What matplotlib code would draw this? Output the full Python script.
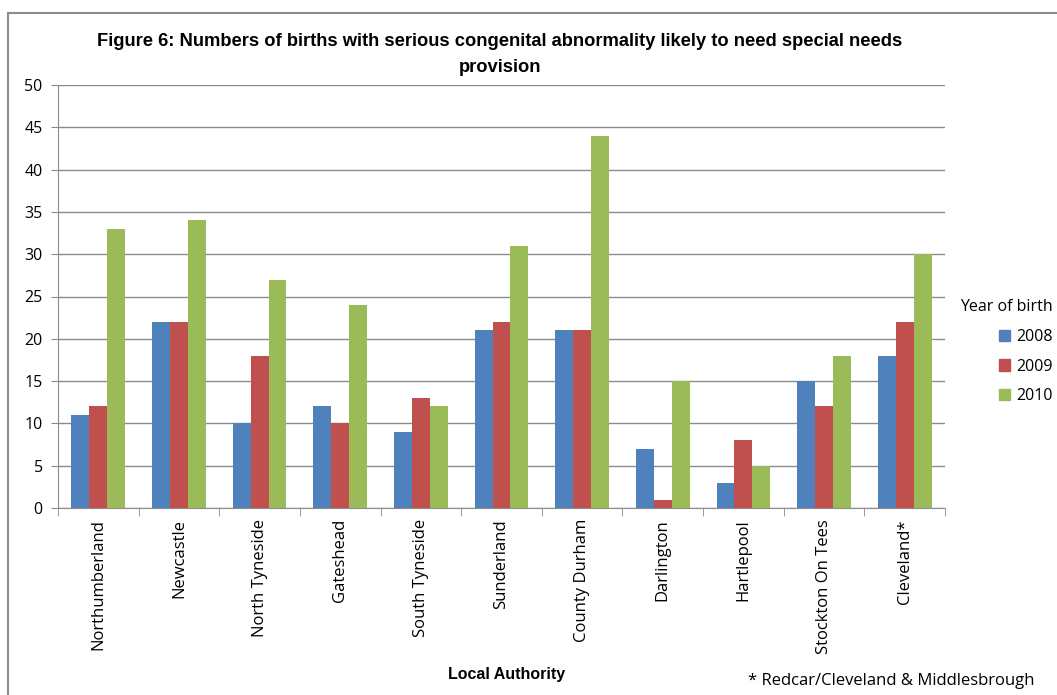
import matplotlib
matplotlib.use("Agg")
import matplotlib.pyplot as plt
import numpy as np
from matplotlib.patches import Rectangle, Patch

categories = ["Northumberland", "Newcastle", "North Tyneside", "Gateshead", "South Tyneside",
              "Sunderland", "County Durham", "Darlington", "Hartlepool", "Stockton On Tees",
              "Cleveland*"]
series_names = ["2008", "2009", "2010"]
values_2008 = [11, 22, 10, 12, 9, 21, 21, 7, 3, 15, 18]
values_2009 = [12, 22, 18, 10, 13, 22, 21, 1, 8, 12, 22]
values_2010 = [33, 34, 27, 24, 12, 31, 44, 15, 5, 18, 30]
colors = ["#4F81BD", "#C0504D", "#9BBB59"]

plt.rcParams['font.family'] = ['Liberation Sans', 'DejaVu Sans']
OPEN = ['Open Sans', 'DejaVu Sans']

W, H = 1057, 695
fig = plt.figure(figsize=(W / 100, H / 100), dpi=100)
fig.patches.append(Rectangle((8 / W, -0.1), 1.2, 1 - 13 / H + 0.1, transform=fig.transFigure,
                             fill=False, edgecolor="#8c8c8c", linewidth=1.5))

ax = fig.add_axes([58 / W, 1 - 508 / H, (945 - 58) / W, (508 - 85) / H])
n = len(categories)
x = np.arange(n)
bw = 1 / 4.5
for i, (vals, c) in enumerate(zip([values_2008, values_2009, values_2010], colors)):
    ax.bar(x + (i - 1) * bw, vals, width=bw, color=c, label=series_names[i], zorder=3)

ax.set_xlim(-0.5, n - 0.5)
ax.set_ylim(0, 50)
ax.set_yticks(np.arange(0, 51, 5))
ax.yaxis.grid(True, color="#8c8c8c", linewidth=1.0, zorder=0)
for s in ["top", "right"]:
    ax.spines[s].set_visible(False)
for s in ["left", "bottom"]:
    ax.spines[s].set_color("#8c8c8c")
ax.set_xticks(x)
ax.set_xticklabels(categories, rotation=90, fontsize=12, family=OPEN)
ax.set_xticks(np.arange(-0.5, n, 1), minor=True)
ax.tick_params(axis='x', which='major', length=0, pad=8)
ax.tick_params(axis='x', which='minor', length=6, color="#8c8c8c")
ax.tick_params(axis='y', length=5, color="#8c8c8c", labelsize=11.5, pad=6)
for lab in ax.get_yticklabels():
    lab.set_family(OPEN)

fig.text(500 / W, 1 - 42 / H, "Figure 6: Numbers of births with serious congenital abnormality likely to need special needs",
         ha="center", va="center", fontsize=13.2, fontweight="bold")
fig.text(500 / W, 1 - 67 / H, "provision", ha="center", va="center", fontsize=13.2, fontweight="bold")
fig.text(507 / W, 1 - 675 / H, "Local Authority", ha="center", va="center", fontsize=11.5, fontweight="bold")
fig.text(748 / W, 1 - 681 / H, "* Redcar/Cleveland & Middlesbrough", ha="left", va="center", fontsize=12,
         family=OPEN)

handles = [Patch(color=c, label=s) for c, s in zip(colors, series_names)]
leg = fig.legend(handles=handles, title="Year of birth", loc="upper left",
                 bbox_to_anchor=(946 / W, 1 - 285 / H), frameon=False,
                 title_fontsize=11.5, handlelength=0.7, handleheight=0.7, handletextpad=0.4,
                 labelspacing=0.85, prop={'family': OPEN, 'size': 11.5})
leg.get_title().set_family(OPEN)
leg._legend_box.align = "right"

fig.savefig("out.png", dpi=100)
